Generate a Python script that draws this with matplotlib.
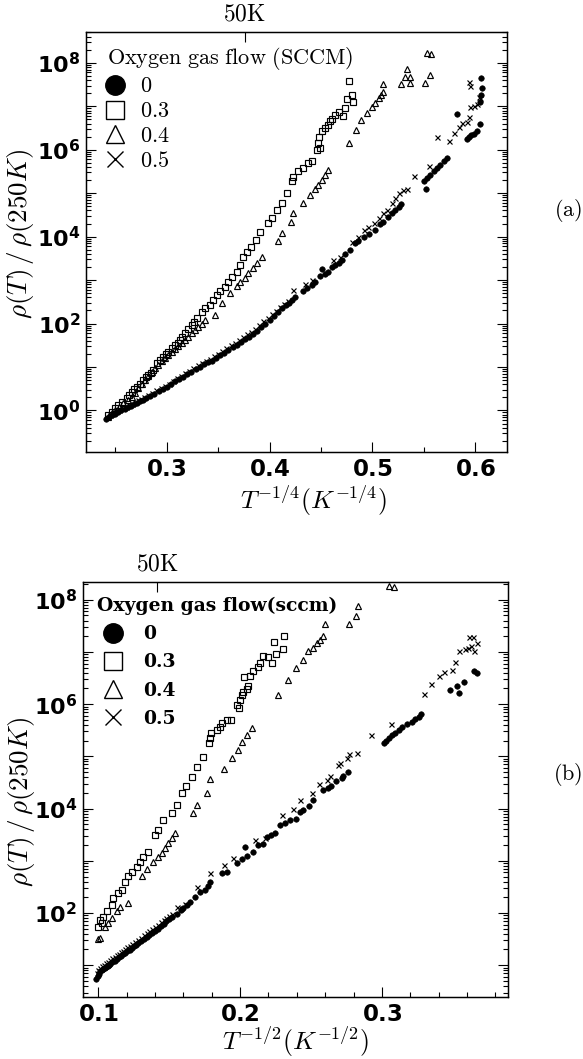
import matplotlib
matplotlib.use("Agg")
import matplotlib.pyplot as plt
from matplotlib.lines import Line2D
from matplotlib.ticker import LogLocator, FuncFormatter, MultipleLocator, NullFormatter
import numpy as np

plt.rcParams['mathtext.fontset'] = 'dejavusans'
plt.rcParams['font.family'] = 'DejaVu Sans'

# ---------------- panel (a): rho vs T^-1/4, values as log10(rho/rho250) ----------------
a_circ_x = [0.241, 0.244, 0.247, 0.250, 0.253, 0.256, 0.259, 0.262, 0.265, 0.268, 0.271, 0.274,
            0.277, 0.280, 0.284, 0.288, 0.292, 0.296, 0.300, 0.304, 0.308, 0.312, 0.316, 0.320,
            0.324, 0.328, 0.332, 0.336, 0.340, 0.344, 0.348, 0.352, 0.356, 0.360, 0.364, 0.368,
            0.372, 0.376, 0.380, 0.384, 0.388, 0.392, 0.396, 0.400, 0.404, 0.408, 0.412, 0.416,
            0.419, 0.422, 0.425, 0.4329, 0.4362, 0.441, 0.4443, 0.4491, 0.4507, 0.454, 0.4572,
            0.4605, 0.4637, 0.467, 0.4702, 0.4734, 0.4783, 0.4832, 0.4864, 0.4922, 0.4968, 0.5026,
            0.5075, 0.5107, 0.515, 0.5189, 0.5221, 0.526, 0.528, 0.552, 0.5497, 0.553, 0.5561,
            0.5594, 0.5626, 0.5659, 0.5691, 0.5724, 0.5821, 0.5919, 0.5941, 0.5961, 0.5984, 0.6016,
            0.6049, 0.6058, 0.6049, 0.6065, 0.6052]
a_circ_ly = [-0.19, -0.15, -0.11, -0.08, -0.04, 0.00, 0.03, 0.07, 0.10, 0.14, 0.17, 0.21,
             0.24, 0.28, 0.33, 0.39, 0.45, 0.50, 0.55, 0.61, 0.67, 0.72, 0.78, 0.84,
             0.89, 0.95, 1.01, 1.06, 1.11, 1.15, 1.21, 1.27, 1.33, 1.39, 1.45, 1.51,
             1.58, 1.64, 1.70, 1.76, 1.84, 1.92, 2.00, 2.09, 2.18, 2.26, 2.35, 2.42,
             2.47, 2.54, 2.60, 2.74, 2.82, 2.89, 2.96, 3.10, 3.25, 3.15, 3.19,
             3.30, 3.35, 3.39, 3.46, 3.60, 3.70, 3.85, 3.91, 4.00, 4.055, 4.15,
             4.29, 4.345, 4.46, 4.54, 4.61, 4.69, 4.75, 5.09, 5.27, 5.34, 5.42,
             5.50, 5.57, 5.65, 5.73, 5.82, 6.82, 6.24, 6.29, 6.34, 6.36, 6.42,
             6.60, 7.26, 7.10, 7.42, 7.64]

a_sq_x = [0.2432, 0.2465, 0.2497, 0.253, 0.2562, 0.2611, 0.2635, 0.266, 0.2685, 0.2708, 0.274,
          0.2773, 0.2797, 0.2821, 0.2845, 0.287, 0.2903, 0.2935, 0.2967, 0.2992, 0.3016, 0.3048,
          0.3081, 0.3105, 0.3129, 0.3153, 0.3178, 0.3210, 0.3243, 0.3268, 0.3292, 0.334, 0.3373,
          0.3421, 0.3453, 0.3486, 0.3518, 0.3567, 0.3599, 0.3632, 0.3681, 0.371, 0.3745, 0.3779,
          0.3817, 0.387, 0.3908, 0.3988, 0.4021, 0.407, 0.4118, 0.4167, 0.4216, 0.4232, 0.428,
          0.4329, 0.4378, 0.441, 0.4459, 0.4491, 0.4475, 0.4481, 0.4507, 0.454, 0.4572, 0.4588,
          0.4611, 0.4637, 0.467, 0.4718, 0.4735, 0.4751, 0.48, 0.4806, 0.4767]
a_sq_ly = [-0.10, -0.04, 0.05, 0.12, 0.20, 0.28, 0.36, 0.43, 0.49, 0.55, 0.62,
           0.70, 0.76, 0.82, 0.87, 0.93, 1.09, 1.16, 1.24, 1.30, 1.35, 1.43,
           1.51, 1.56, 1.62, 1.70, 1.78, 1.88, 1.97, 2.04, 2.12, 2.26, 2.35,
           2.43, 2.54, 2.66, 2.75, 2.85, 2.96, 3.08, 3.19, 3.35, 3.54, 3.655,
           3.77, 3.92, 4.10, 4.31, 4.42, 4.61, 4.77, 5.00, 5.27, 5.38, 5.50,
           5.57, 5.69, 5.74, 6.00, 6.03, 6.15, 6.29, 6.42, 6.49, 6.57, 6.66,
           6.70, 6.80, 6.88, 6.78, 6.95, 7.16, 7.26, 7.09, 7.59]

a_tri_x = [0.2432, 0.2465, 0.2497, 0.2537, 0.2578, 0.262, 0.266, 0.2692, 0.2724, 0.2757, 0.2789,
           0.2821, 0.2854, 0.2887, 0.2919, 0.2952, 0.2984, 0.3016, 0.3049, 0.3081, 0.3113, 0.3146,
           0.3178, 0.321, 0.3243, 0.3275, 0.3307, 0.334, 0.3373, 0.347, 0.3535, 0.3616, 0.3681,
           0.3713, 0.3762, 0.3794, 0.3843, 0.3876, 0.3924, 0.408, 0.4118, 0.4209, 0.4232, 0.4329,
           0.4394, 0.4443, 0.4475, 0.4508, 0.454, 0.4566, 0.4767, 0.4838, 0.489, 0.4945, 0.4994,
           0.5026, 0.5059, 0.5085, 0.5098, 0.5107, 0.5279, 0.5318, 0.5334, 0.5367, 0.5367, 0.5513,
           0.5561, 0.5529, 0.5571]
a_tri_ly = [-0.14, -0.06, 0.01, 0.09, 0.17, 0.25, 0.32, 0.41, 0.51, 0.60, 0.70,
            0.79, 0.89, 0.97, 1.05, 1.13, 1.20, 1.28, 1.35, 1.42, 1.49, 1.56,
            1.62, 1.70, 1.78, 1.86, 1.93, 2.00, 2.08, 2.20, 2.47, 2.70, 2.87,
            2.95, 3.04, 3.16, 3.27, 3.39, 3.54, 3.91, 4.08, 4.33, 4.55, 4.78,
            4.96, 5.09, 5.19, 5.30, 5.42, 5.53, 6.16, 6.45, 6.69, 6.85, 6.99,
            7.08, 7.18, 7.26, 7.34, 7.51, 7.51, 7.68, 7.85, 7.68, 7.54, 7.54,
            7.71, 8.23, 8.20]

a_x_x = [0.242, 0.245, 0.248, 0.251, 0.254, 0.257, 0.260, 0.263, 0.266, 0.269, 0.272, 0.275,
         0.278, 0.282, 0.286, 0.290, 0.294, 0.298, 0.302, 0.306, 0.310, 0.314, 0.318, 0.322,
         0.326, 0.330, 0.334, 0.338, 0.342, 0.346, 0.350, 0.354, 0.358, 0.362, 0.366, 0.370,
         0.374, 0.378, 0.382, 0.386, 0.390, 0.394, 0.398, 0.402, 0.406, 0.410, 0.414, 0.418,
         0.423, 0.4345, 0.441, 0.4621, 0.4686, 0.4799, 0.4858, 0.4913, 0.4961, 0.501, 0.5059,
         0.5098, 0.514, 0.5189, 0.5221, 0.526, 0.5293, 0.5334, 0.5399, 0.5545, 0.5627, 0.574,
         0.5789, 0.5838, 0.587, 0.5919, 0.5935, 0.5951, 0.5984, 0.6016, 0.6032, 0.6049, 0.5935,
         0.5951]
a_x_ly = [-0.14, -0.10, -0.06, -0.02, 0.02, 0.05, 0.09, 0.12, 0.16, 0.19, 0.23, 0.26,
          0.30, 0.35, 0.40, 0.46, 0.51, 0.57, 0.62, 0.68, 0.74, 0.80, 0.86, 0.92,
          0.98, 1.04, 1.09, 1.14, 1.19, 1.25, 1.31, 1.37, 1.43, 1.50, 1.56, 1.62,
          1.69, 1.75, 1.81, 1.88, 1.96, 2.05, 2.13, 2.21, 2.30, 2.39, 2.46, 2.52,
          2.77, 2.90, 3.00, 3.46, 3.54, 3.885, 4.00, 4.15, 4.23, 4.31, 4.42,
          4.54, 4.61, 4.77, 4.88, 5.00, 5.07, 5.09, 5.40, 5.63, 6.29, 6.19,
          6.38, 6.53, 6.61, 6.65, 6.75, 6.98, 7.01, 7.05, 7.22, 7.18, 7.57,
          7.47]

# ---------------- panel (b): rho vs T^-1/2 ----------------
b_circ_x = [0.0985, 0.0995, 0.1005, 0.1015, 0.1025, 0.1035, 0.1045, 0.1055, 0.1065, 0.1075,
            0.1085, 0.110, 0.1115, 0.113, 0.1145, 0.116, 0.1175, 0.119, 0.1205, 0.122, 0.1235,
            0.125, 0.1265, 0.128, 0.130, 0.132, 0.134, 0.136, 0.138, 0.140, 0.142, 0.144, 0.146,
            0.148, 0.150, 0.152, 0.1553, 0.158, 0.160, 0.1625, 0.1647, 0.1682, 0.1718, 0.1753,
            0.1775, 0.1788, 0.1871, 0.1906, 0.1977, 0.2012, 0.2047, 0.2035, 0.2094, 0.2129, 0.216,
            0.2188, 0.2217, 0.2247, 0.2282, 0.2318, 0.2353, 0.2395, 0.2423, 0.2447, 0.2484, 0.2517,
            0.2588, 0.2623, 0.2642, 0.2675, 0.2718, 0.2729, 0.2764, 0.3012, 0.3029, 0.3047, 0.3071,
            0.3094, 0.3118, 0.3142, 0.3177, 0.3212, 0.3236, 0.3259, 0.3278, 0.3482, 0.3529, 0.3541,
            0.3576, 0.3647, 0.3671]
b_circ_ly = [0.74, 0.80, 0.84, 0.88, 0.90, 0.92, 0.95, 0.97, 0.99, 1.01,
             1.03, 1.06, 1.09, 1.12, 1.15, 1.18, 1.21, 1.24, 1.27, 1.30, 1.33,
             1.36, 1.39, 1.42, 1.46, 1.50, 1.54, 1.58, 1.62, 1.66, 1.70, 1.75, 1.79,
             1.84, 1.88, 1.93, 1.99, 2.05, 2.10, 2.16, 2.22, 2.31, 2.40, 2.44,
             2.52, 2.60, 2.76, 2.79, 2.95, 3.03, 3.10, 3.27, 3.17, 3.30, 3.33,
             3.46, 3.49, 3.53, 3.69, 3.72, 3.78, 3.81, 3.94, 3.97, 4.05, 4.16,
             4.36, 4.39, 4.43, 4.52, 4.58, 4.62, 4.71, 5.25, 5.30, 5.35, 5.41,
             5.45, 5.51, 5.56, 5.62, 5.66, 5.71, 5.76, 5.81, 6.27, 6.35, 6.22,
             6.43, 6.64, 6.60]

b_sq_x = [0.100, 0.1012, 0.1024, 0.1035, 0.1059, 0.1095, 0.1106, 0.1141, 0.1165, 0.1188, 0.1212,
          0.1236, 0.1271, 0.1294, 0.1318, 0.1353, 0.140, 0.1423, 0.1459, 0.1518, 0.1553, 0.1589,
          0.1619, 0.1659, 0.1694, 0.1741, 0.1783, 0.1788, 0.1793, 0.1836, 0.1859, 0.1871, 0.1906,
          0.1934, 0.1995, 0.1977, 0.200, 0.2012, 0.2023, 0.2047, 0.2059, 0.2031, 0.2071, 0.2094,
          0.2129, 0.2141, 0.216, 0.220, 0.2228, 0.2254, 0.2306, 0.2242, 0.2311]
b_sq_ly = [1.74, 1.87, 1.80, 1.93, 2.03, 2.15, 2.28, 2.38, 2.44, 2.60, 2.70,
           2.79, 2.89, 2.98, 3.08, 3.17, 3.49, 3.59, 3.78, 3.91, 4.07, 4.30,
           4.43, 4.61, 4.79, 4.98, 5.25, 5.35, 5.44, 5.51, 5.57, 5.63, 5.70,
           5.70, 5.92, 5.98, 6.08, 6.18, 6.24, 6.30, 6.35, 6.52, 6.54, 6.64,
           6.71, 6.78, 6.92, 6.90, 6.79, 6.97, 7.05, 7.20, 7.31]

b_tri_x = [0.100, 0.1012, 0.1047, 0.1071, 0.1095, 0.113, 0.1153, 0.1212, 0.1306, 0.1341, 0.1388,
           0.1423, 0.1447, 0.1471, 0.1494, 0.1518, 0.1541, 0.167, 0.1694, 0.1765, 0.1788, 0.1887,
           0.1941, 0.1988, 0.2016, 0.2047, 0.2083, 0.2266, 0.2341, 0.2395, 0.2446, 0.2482, 0.2517,
           0.254, 0.2565, 0.2588, 0.260, 0.2771, 0.2816, 0.2835, 0.3047, 0.3089]
b_tri_ly = [1.50, 1.53, 1.74, 1.80, 1.90, 2.03, 2.12, 2.19, 2.70, 2.84, 2.98,
            3.08, 3.14, 3.24, 3.34, 3.43, 3.53, 3.91, 4.07, 4.30, 4.56, 4.76,
            4.96, 5.12, 5.28, 5.41, 5.54, 6.18, 6.46, 6.69, 6.85, 7.01, 7.07,
            7.17, 7.23, 7.31, 7.53, 7.53, 7.69, 7.88, 8.26, 8.25]

b_x_x = [0.0990, 0.1000, 0.1010, 0.1025, 0.104, 0.1055, 0.107, 0.1085, 0.110, 0.1115, 0.113,
         0.1145, 0.116, 0.1175, 0.119, 0.1205, 0.122, 0.124, 0.126, 0.128, 0.130, 0.132, 0.134,
         0.136, 0.138, 0.140, 0.142, 0.144, 0.146, 0.148, 0.150, 0.152, 0.1553, 0.158, 0.161,
         0.1694, 0.1788, 0.1887, 0.1953, 0.2106, 0.2176, 0.2294, 0.2376, 0.2423, 0.2506, 0.2558,
         0.2612, 0.2635, 0.2694, 0.2706, 0.2753, 0.2769, 0.2824, 0.2925, 0.3066, 0.3296, 0.335,
         0.3402, 0.3437, 0.3497, 0.3515, 0.3543, 0.3586, 0.361, 0.3614, 0.3642, 0.3649, 0.3673,
         0.3626]
b_x_ly = [0.86, 0.91, 0.94, 0.98, 1.01, 1.04, 1.07, 1.10, 1.13, 1.16, 1.19,
          1.22, 1.25, 1.28, 1.31, 1.34, 1.37, 1.41, 1.45, 1.49, 1.53, 1.57, 1.61,
          1.65, 1.69, 1.73, 1.77, 1.82, 1.86, 1.90, 1.94, 1.98, 2.12, 2.10, 2.17,
          2.49, 2.76, 2.91, 3.05, 3.40, 3.43, 3.88, 4.00, 4.16, 4.30, 4.47,
          4.55, 4.62, 4.84, 4.87, 4.96, 5.05, 5.07, 5.41, 5.62, 6.20, 6.39,
          6.54, 6.62, 6.66, 6.81, 7.01, 7.05, 7.07, 7.28, 7.28, 7.02, 7.17,
          7.11]

flow_labels = ["0", "0.3", "0.4", "0.5"]


def even_decades(v, pos):
    e = int(round(np.log10(v)))
    return r"$\mathbf{10^{%d}}$" % e if e % 2 == 0 else ""


def style_axes(ax, xlim, ylim, xmaj, xmin, t50, xlabel, xlab_pos, ylab_pos):
    ax.set_yscale("log")
    ax.set_xlim(*xlim)
    ax.set_ylim(10 ** ylim[0], 10 ** ylim[1])
    ax.xaxis.set_major_locator(MultipleLocator(xmaj))
    ax.xaxis.set_minor_locator(MultipleLocator(xmin))
    ax.xaxis.set_major_formatter(FuncFormatter(lambda v, p: r"$\mathbf{%.1f}$" % v))
    ax.yaxis.set_major_locator(LogLocator(base=10, numticks=30))
    ax.yaxis.set_minor_locator(LogLocator(base=10, subs=np.arange(2, 10), numticks=30))
    ax.yaxis.set_major_formatter(FuncFormatter(even_decades))
    ax.yaxis.set_minor_formatter(NullFormatter())
    ax.tick_params(which="both", direction="in", right=True, top=False, width=0.8, pad=4)
    ax.tick_params(axis="x", labelsize=16.5)
    ax.tick_params(axis="y", labelsize=16)
    ax.tick_params(which="major", length=7)
    ax.tick_params(which="minor", length=3.5)
    for s in ax.spines.values():
        s.set_linewidth(1.0)
    ax.set_xlabel(xlabel, fontsize=18.5, math_fontfamily="cm")
    ax.xaxis.set_label_coords(*xlab_pos)
    ax.set_ylabel(r"$\rho(T)\,/\,\rho(250K)$", fontsize=19.5, math_fontfamily="cm")
    ax.yaxis.set_label_coords(*ylab_pos)
    top = ax.twiny()
    top.set_xlim(ax.get_xlim())
    top.set_xticks([t50])
    top.set_xticklabels([r"$\mathrm{50K}$"], math_fontfamily="cm", fontsize=17)
    top.tick_params(direction="in", length=7, width=0.8, pad=5)


def draw_points(ax, sets):
    (cx, cy), (sx, sy), (tx, ty), (xx, xy) = sets
    ax.plot(sx, 10 ** np.array(sy), ls="none", marker="s", ms=4.8, mfc="none", mec="black", mew=0.85)
    ax.plot(tx, 10 ** np.array(ty), ls="none", marker="^", ms=4.6, mfc="none", mec="black", mew=0.85)
    ax.plot(cx, 10 ** np.array(cy), ls="none", marker="o", ms=4.0, mfc="black", mec="black", mew=0.4)
    ax.plot(xx, 10 ** np.array(xy), ls="none", marker="x", ms=3.6, color="black", mew=0.85)


def legend_handles():
    return [
        Line2D([], [], ls="none", marker="o", ms=14, mfc="black", mec="black"),
        Line2D([], [], ls="none", marker="s", ms=13, mfc="none", mec="black", mew=1.0),
        Line2D([], [], ls="none", marker="^", ms=13, mfc="none", mec="black", mew=1.0),
        Line2D([], [], ls="none", marker="x", ms=11, color="black", mew=1.0),
    ]


fig = plt.figure(figsize=(5.83, 10.59), dpi=100)
ax_a = fig.add_axes([0.1475, 0.5732, 0.722, 0.3966])
ax_b = fig.add_axes([0.1419, 0.0585, 0.7295, 0.3919])

# panel (a)
draw_points(ax_a, [(a_circ_x, a_circ_ly), (a_sq_x, a_sq_ly), (a_tri_x, a_tri_ly), (a_x_x, a_x_ly)])
style_axes(ax_a, (0.2215, 0.6307), (-0.955, 8.71), 0.1, 0.05, 50 ** -0.25,
           r"$T^{-1/4}(K^{-1/4})$", (0.54, -0.075), (-0.118, 0.52))
leg_a = ax_a.legend(legend_handles(), [r"$\mathrm{%s}$" % l for l in flow_labels],
                    title=r"$\mathrm{Oxygen\ gas\ flow\ (SCCM)}$", loc="upper left",
                    bbox_to_anchor=(0.05, 0.97), borderaxespad=0, borderpad=0, frameon=False,
                    fontsize=16, title_fontsize=16, handlelength=0.68, handletextpad=0.81,
                    labelspacing=0.22, alignment="left")
for t in leg_a.get_texts():
    t.set_math_fontfamily("cm")
leg_a.get_title().set_math_fontfamily("cm")

# panel (b)
draw_points(ax_b, [(b_circ_x, b_circ_ly), (b_sq_x, b_sq_ly), (b_tri_x, b_tri_ly), (b_x_x, b_x_ly)])
style_axes(ax_b, (0.089, 0.389), (0.39, 8.34), 0.1, 0.02, 50 ** -0.5,
           r"$T^{-1/2}(K^{-1/2})$", (0.5, -0.066), (-0.108, 0.47))
leg_b = ax_b.legend(legend_handles(), flow_labels, title="Oxygen gas flow(sccm)",
                    loc="upper left", bbox_to_anchor=(0.034, 0.965), borderaxespad=0,
                    borderpad=0, frameon=False,
                    prop={"family": "DejaVu Serif", "weight": "bold", "size": 13.5},
                    title_fontproperties={"family": "DejaVu Serif", "weight": "bold", "size": 13.5},
                    handlelength=1.72, handletextpad=0.75, labelspacing=0.55, alignment="left")

fig.text(568 / 583, 1 - 211 / 1059, r"$\mathrm{(a)}$", math_fontfamily="cm", fontsize=16,
         ha="center", va="center")
fig.text(568 / 583, 1 - 774 / 1059, r"$\mathrm{(b)}$", math_fontfamily="cm", fontsize=16,
         ha="center", va="center")

fig.savefig("out.png", dpi=100)
